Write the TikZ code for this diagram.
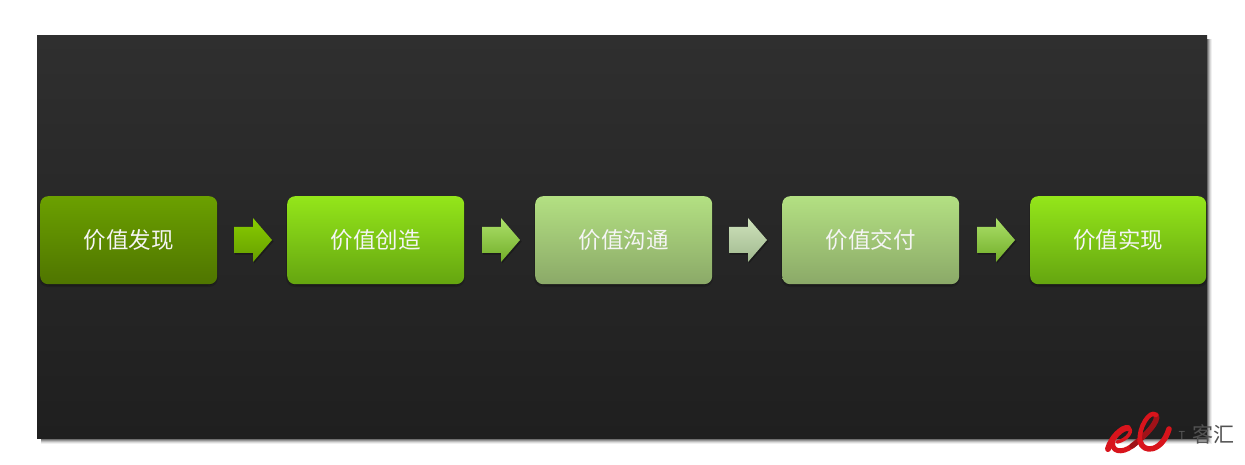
\documentclass[tikz,border=0pt]{standalone}
\usepackage{fontspec}
\setmainfont{Noto Sans CJK SC}
\definecolor{panelt}{HTML}{2F2F2F}\definecolor{panelb}{HTML}{1F1F1F}
\definecolor{boxAt}{HTML}{6BA000}\definecolor{boxAb}{HTML}{4F7500}
\definecolor{boxBt}{HTML}{94E61A}\definecolor{boxBb}{HTML}{65A510}
\definecolor{boxCt}{HTML}{B3E082}\definecolor{boxCb}{HTML}{8BA968}
\definecolor{arAt}{HTML}{88CC00}\definecolor{arAb}{HTML}{669E00}
\definecolor{arBt}{HTML}{ACE06A}\definecolor{arBb}{HTML}{72AE28}
\definecolor{arCt}{HTML}{CFE3BC}\definecolor{arCb}{HTML}{A0B88E}
\definecolor{logored}{HTML}{D8141C}
\definecolor{logodark}{HTML}{A01218}
\tikzset{
  x=1pt,y=-1pt,
  flowbox/.style={rounded corners=8pt,minimum width=177pt,minimum height=88pt,inner sep=0pt,
    text=white!96!black,font=\fontsize{22.5}{26}\selectfont,anchor=north west},
  boxshade/.style={fill=black,fill opacity=.15,rounded corners=9pt},
  blockarrow/.style={top color=#1t,bottom color=#1b,draw=none},
  arrowshade/.style={fill=black,fill opacity=.28},
  swash/.style={draw=logored,line cap=round,line join=round},
}
\newcommand{\flowarrow}[2]{%
  \fill[arrowshade] (#1+1,228.5) -- (#1+20,228.5) -- (#1+20,219.5) -- (#1+39.5,241.5) -- (#1+20,263.5) -- (#1+20,254.5) -- (#1+1,254.5) -- cycle;
  \path[blockarrow=#2] (#1,227) -- (#1+19,227) -- (#1+19,218) -- (#1+38,240) -- (#1+19,262) -- (#1+19,253) -- (#1,253) -- cycle;}
\begin{document}
\begin{tikzpicture}
\useasboundingbox (0,0) rectangle (1245,465);
\fill[white] (0,0) rectangle (1245,465);
% panel shadow
\foreach \d/\o in {5/.06,4/.09,3/.14,2/.2,1/.25}{\fill[black,fill opacity=\o] (41,39) rectangle (1207+\d,438.5+\d);}
\path[top color=panelt,bottom color=panelb] (37,35.5) rectangle (1207,438.5);
% box shadows
\foreach \x in {40,287,535,782,1030}{
  \fill[boxshade] (\x-1,197) rectangle (\x+178,287);
  \fill[boxshade] (\x,197) rectangle (\x+177,285.5);}
% boxes
\node[flowbox,top color=boxAt,bottom color=boxAb] (b1) at (40,196) {\raisebox{1pt}{价值发现}};
\node[flowbox,top color=boxBt,bottom color=boxBb] (b2) at (287,196) {\raisebox{1pt}{价值创造}};
\node[flowbox,top color=boxCt,bottom color=boxCb] (b3) at (535,196) {\raisebox{1pt}{价值沟通}};
\node[flowbox,top color=boxCt,bottom color=boxCb] (b4) at (782,196) {\raisebox{1pt}{价值交付}};
\node[flowbox,top color=boxBt,bottom color=boxBb,minimum width=176pt] (b5) at (1030,196) {\raisebox{1pt}{价值实现}};
% arrows
\flowarrow{234}{arA}
\flowarrow{482}{arB}
\flowarrow{729}{arC}
\flowarrow{977}{arB}
% logo
\draw[swash,line width=6pt] (1108,449) .. controls (1111,438) and (1122,427) .. (1128,428);
\draw[swash,line width=3.5pt] (1128,428) .. controls (1134,429) and (1128,440) .. (1117,442);
\draw[swash,line width=5pt] (1113,440) .. controls (1110,452) and (1122,454) .. (1132,446);
\draw[swash,draw=logodark,line width=5.5pt] (1132,446) .. controls (1144,437) and (1160,421) .. (1156,415);
\draw[swash,line width=4.5pt] (1156,415) .. controls (1150,409) and (1138,428) .. (1140,441);
\draw[swash,line width=5.5pt] (1140,441) .. controls (1143,454) and (1162,452) .. (1169,429);
\node[text=black!65,font=\fontsize{11}{12}\selectfont,inner sep=0pt] (lt) at (1182,435) {T};
\node[text=black!68,font=\fontsize{21}{22}\selectfont,inner sep=0pt] (lk) at (1213,434) {客汇};
\end{tikzpicture}
\end{document}
